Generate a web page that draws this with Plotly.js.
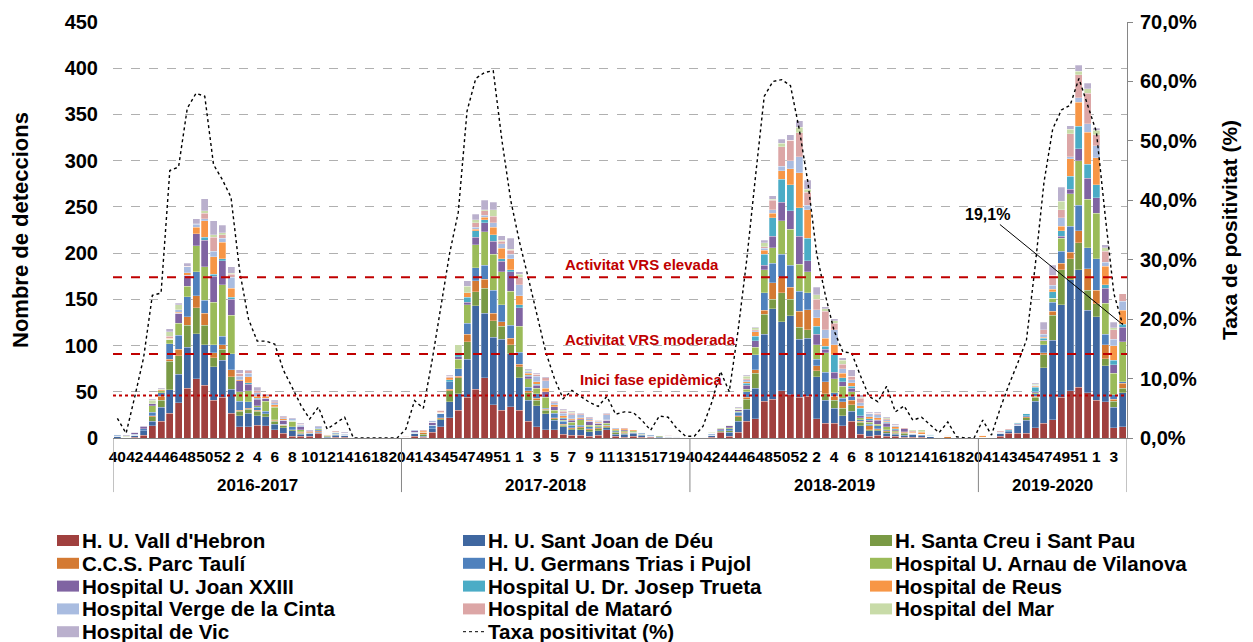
<!DOCTYPE html>
<html>
<head>
<meta charset="utf-8">
<script src="https://cdn.plot.ly/plotly-3.0.1.min.js"></script>
<style>
html,body{margin:0;padding:0;background:#ffffff;}
#chart{width:1253px;height:642px;}
</style>
</head>
<body>
<div id="chart"></div>
<script>
// ---------- DATA ----------
const seasons = ['2016-2017', '2017-2018', '2018-2019', '2019-2020'];
const weeksS1 = [40,41,42,43,44,45,46,47,48,49,50,51,52,1,2,3,4,5,6,7,8,9,10,11,12,13,14,15,16,17,18,19,20];
const weeksS2 = [40,41,42,43,44,45,46,47,48,49,50,51,52,1,2,3,4,5,6,7,8,9,10,11,12,13,14,15,16,17,18,19,20];
const weeksS3 = [40,41,42,43,44,45,46,47,48,49,50,51,52,1,2,3,4,5,6,7,8,9,10,11,12,13,14,15,16,17,18,19,20];
const weeksS4 = [40,41,42,43,44,45,46,47,48,49,50,51,52,1,2,3,4];

// detections per hospital (season 2016-17 | 2017-18 | 2018-19 | 2019-20)
const vallHebron = [
  0,0,1,3,13,18,27,38,54,64,57,41,44,27,12,12,14,13,9,5,2,2,2,5,0,1,1,0,0,0,0,0,0,
  1,2,1,6,12,22,30,44,53,65,36,30,34,30,18,12,9,9,4,3,3,2,3,9,2,1,2,1,1,0,0,0,0,
  0,1,1,6,2,6,18,21,40,42,51,47,44,45,21,16,16,13,18,4,2,3,2,2,1,1,1,0,0,0,0,0,0,
  0,0,2,5,5,5,11,16,20,44,51,55,49,41,39,11,12];
const santJoanDeu = [
  2,0,2,5,5,15,25,31,44,49,44,36,40,26,12,15,10,10,6,6,6,2,3,1,1,2,2,0,0,0,0,0,0,
  0,3,1,4,8,17,18,41,90,70,73,77,57,35,23,23,17,10,8,6,6,5,5,2,2,3,3,2,1,1,1,1,0,
  1,0,2,1,4,12,13,33,72,98,75,85,63,63,45,25,16,11,11,9,6,5,3,2,2,3,2,2,1,0,0,0,0,
  0,0,3,2,8,14,29,60,86,100,120,127,89,90,39,22,37];
const santPau = [
  0,0,0,0,5,8,31,20,24,28,21,10,12,13,5,4,5,3,3,2,1,1,0,1,1,1,0,0,0,0,0,0,0,
  0,0,2,0,1,12,17,19,15,27,18,14,10,12,8,6,4,2,2,1,2,2,2,1,2,1,1,1,0,1,0,0,0,
  0,0,0,1,2,5,11,16,22,10,31,18,13,9,7,7,9,8,7,4,1,1,2,1,2,0,1,0,0,0,0,0,0,
  0,0,0,0,0,3,4,14,27,38,23,29,22,14,8,7,5];
const parcTauli = [
  0,0,0,0,1,4,2,7,9,13,13,5,5,8,1,1,1,0,1,1,0,1,1,1,1,0,0,0,0,0,0,0,0,
  0,0,2,0,1,2,2,8,12,10,8,5,7,3,2,2,1,1,1,1,1,1,1,1,1,1,0,0,0,1,0,0,0,
  0,0,0,0,0,1,2,4,4,18,17,13,17,22,5,13,4,7,5,1,4,1,1,1,1,1,0,0,0,2,0,0,0,
  1,0,0,0,0,1,1,2,4,7,7,13,23,15,15,2,5];
const germansTrias = [
  1,0,1,2,4,4,17,15,22,26,14,9,9,17,10,7,3,3,1,1,3,1,1,1,0,1,1,0,0,0,0,0,0,
  0,1,0,4,5,8,8,12,14,15,25,18,14,13,4,5,1,5,3,3,2,2,1,1,1,1,1,1,1,0,1,0,0,
  0,0,1,1,2,4,6,16,19,21,25,24,22,18,7,10,4,4,4,2,2,3,1,1,1,0,0,0,0,0,0,0,0,
  0,0,1,1,1,1,3,9,10,13,28,28,23,34,11,5,2];
const arnauVilanova = [
  1,1,0,0,7,2,5,13,11,28,36,46,56,42,10,12,2,11,13,0,6,2,0,1,1,1,0,0,0,0,0,0,0,
  0,0,1,0,0,0,10,20,25,36,39,36,37,28,9,6,12,3,1,3,6,2,2,2,1,1,1,1,1,0,0,1,0,
  0,0,1,0,1,1,3,8,25,17,36,39,29,23,16,21,15,13,5,2,2,2,3,1,0,0,0,0,0,0,0,0,0,
  0,0,0,0,0,0,1,4,4,14,35,48,52,49,34,23,43];
const joanXXIII = [
  0,0,2,2,2,0,0,11,12,13,29,28,26,17,12,7,7,3,1,4,0,3,0,0,0,0,1,0,0,0,0,0,0,
  0,2,0,3,0,0,3,3,8,10,14,11,21,20,3,3,6,4,2,2,1,4,2,3,0,1,0,0,0,0,0,0,0,
  0,0,0,1,2,2,4,7,5,12,20,20,30,12,11,4,7,5,4,2,2,4,4,1,3,0,0,0,0,0,0,0,0,
  0,0,0,0,1,0,1,1,0,2,5,13,23,17,16,9,16];
const josepTrueta = [
  0,0,0,0,0,0,0,0,0,0,3,2,2,2,0,2,1,0,0,0,1,0,0,0,0,0,0,0,0,0,0,0,0,
  0,0,0,0,0,2,2,5,7,3,7,3,2,3,1,1,0,0,1,1,0,0,0,0,0,0,0,0,0,0,0,0,0,
  0,0,0,0,0,0,2,5,12,20,25,28,31,24,9,3,19,4,2,8,2,1,1,1,0,0,0,1,0,0,0,0,0,
  0,0,1,1,1,2,5,2,7,6,14,24,15,14,4,5,3];
const hospReus = [
  0,0,0,0,0,1,1,1,3,7,18,19,18,10,1,6,2,2,2,2,0,0,0,0,0,1,0,0,0,0,0,0,0,
  0,0,1,0,1,2,0,5,2,3,8,11,12,10,2,3,4,2,2,1,1,1,1,1,1,1,1,0,0,0,0,0,0,
  0,0,0,0,0,0,2,5,4,5,9,17,38,31,9,9,11,5,4,3,2,2,1,2,0,1,2,0,0,1,0,0,0,
  2,0,0,0,1,1,1,1,3,5,19,26,35,29,20,16,15];
const vergeCinta = [
  0,0,1,0,0,0,0,3,6,3,2,6,4,12,4,4,4,2,2,1,2,2,0,2,0,0,0,0,0,0,0,0,0,
  0,1,0,2,0,0,0,0,2,2,5,5,5,12,2,6,8,2,3,4,3,2,1,5,1,0,0,0,0,0,0,0,0,
  0,0,0,0,0,0,2,1,2,4,5,9,17,5,9,9,16,5,3,3,3,3,2,1,0,1,1,1,0,0,0,0,0,
  0,0,0,0,0,0,1,3,4,9,2,5,9,13,4,7,10];
const hospMataro = [
  0,0,0,0,0,0,2,0,1,1,6,15,4,3,3,3,2,1,1,1,0,1,1,0,0,1,0,0,0,0,0,0,0,
  1,0,1,0,2,2,0,0,5,5,7,3,4,8,1,2,3,1,2,2,1,1,1,1,0,1,0,0,0,0,1,0,0,
  0,0,0,0,0,0,1,1,2,10,21,22,26,14,11,20,7,5,4,5,1,2,1,1,1,1,0,0,0,0,0,0,0,
  0,0,1,1,0,0,0,5,11,9,25,25,33,12,12,10,8];
const hospMar = [
  0,1,0,0,4,1,5,5,0,0,3,3,2,1,0,0,0,0,0,0,0,0,0,0,0,0,0,0,0,0,0,0,0,
  0,0,0,0,0,0,11,7,3,1,7,1,1,3,1,0,0,0,1,1,0,0,0,0,0,0,0,1,0,0,0,0,0,
  0,0,1,1,1,1,3,2,4,1,4,0,6,3,5,3,3,4,0,1,0,0,1,0,0,1,2,0,0,0,0,0,0,
  0,0,0,0,0,0,1,0,0,9,5,4,5,5,4,2,0];
const hospVic = [
  0,1,0,1,1,1,3,2,3,5,13,15,8,7,4,1,4,0,2,1,1,1,1,1,0,0,1,0,0,0,0,0,0,
  0,0,0,0,0,1,0,6,6,10,8,5,12,3,1,1,1,1,1,1,1,1,1,1,0,0,0,0,0,0,0,0,0,
  0,0,0,0,0,1,1,1,3,4,4,6,7,10,8,2,2,3,7,3,1,1,1,1,0,0,0,0,0,0,0,0,0,
  0,0,0,0,0,0,1,8,11,15,4,6,6,2,3,6,0];

// positivity rate (%)
const taxaPositivitat = [
  3.3,0.8,7,13.5,24,24.4,45,45.6,55.5,58,57.5,46,43.5,40.5,28,20,16.3,16.3,15.8,11.4,8.5,5.5,3.2,5.2,1.5,2.5,3.5,0,0,0,0,0,0,
  1.5,6.3,5,13,22,31,38,55,60.5,61.5,61.8,50,40,33,27,21,14.5,10,6.6,8,7,6,5.3,7,4,4.4,4.3,3,1.3,3.7,3.5,1.6,0.3,
  0.3,2,6,11.2,7.8,18,30,44,57.5,60,60.3,59.3,52,43,31,24,18,14.5,14.3,10.5,7,6.1,8.7,4.4,5.4,3,3.5,2.2,0.9,2.7,0.2,0,0,
  3,0.5,5,9,12.6,16.5,29,43,52,55.2,56,60.5,56,51.5,37.5,24.3,19.1];

// epidemic thresholds (detections)
const thresholdValues = [174, 91, 46];
const thresholdLabels = ['Activitat VRS elevada', 'Activitat VRS moderada', 'Inici fase epidèmica'];

const seriesNames = ["H. U. Vall d'Hebron", "H. U. Sant Joan de Déu", "H. Santa Creu i Sant Pau",
  "C.C.S. Parc Taulí", "H. U. Germans Trias i Pujol", "Hospital U. Arnau de Vilanova",
  "Hospital U. Joan XXIII", "Hospital U. Dr. Josep Trueta", "Hospital de Reus",
  "Hospital Verge de la Cinta", "Hospital de Mataró", "Hospital del Mar", "Hospital de Vic"];
const lineName = 'Taxa positivitat (%)';

// ---------- BUILD ----------
const seasonWeeks = [weeksS1, weeksS2, weeksS3, weeksS4];
const seriesValues = [vallHebron, santJoanDeu, santPau, parcTauli, germansTrias, arnauVilanova,
  joanXXIII, josepTrueta, hospReus, vergeCinta, hospMataro, hospMar, hospVic];
const colors = ['#A0403E', '#3F67A0', '#7A9A45', '#D47A33', '#4F81BD', '#9BBB59',
  '#8064A2', '#4BACC6', '#F79646', '#A9BCE0', '#DCA6A6', '#C8DBA8', '#BAB0CD'];

const cats = [], catWeek = [], bounds = [0];
seasons.forEach((s, k) => {
  seasonWeeks[k].forEach(w => { cats.push(s + ' · ' + w); catWeek.push(w); });
  bounds.push(cats.length);
});
const tickvals = cats.filter((c, i) => i % 2 === 0);
const ticktext = catWeek.filter((w, i) => i % 2 === 0).map(String);

const FONT = 'Liberation Sans, Arial, Helvetica, sans-serif';

const traces = seriesValues.map((vals, i) => ({
  type: 'bar',
  name: seriesNames[i],
  x: cats,
  y: vals,
  showlegend: false,
  marker: {color: colors[i], line: {color: 'rgba(255,255,255,0.55)', width: 0.5}}
}));
traces.push({
  type: 'scatter',
  mode: 'lines',
  name: lineName,
  x: cats,
  y: taxaPositivitat,
  yaxis: 'y2',
  showlegend: false,
  line: {color: '#000000', width: 1.4, dash: 'dot'}
});

// geometry of the plot area (pixels) used to place the legend block below it
const W = 1253, H = 642;
const M = {l: 113, r: 126, t: 22, b: 204};
const pw = W - M.l - M.r, ph = H - M.t - M.b;
const px2x = px => (px - M.l) / pw;
const py2y = py => (H - M.b - py) / ph;

const shapes = [];
bounds.forEach(b => {
  shapes.push({type: 'line', xref: 'x', yref: 'paper', x0: b - 0.5, x1: b - 0.5, y0: 0, y1: -0.13,
    line: {color: '#868686', width: 1}});
});
thresholdValues.forEach((v, i) => {
  shapes.push({type: 'line', xref: 'paper', yref: 'y', x0: 0, x1: 1, y0: v, y1: v,
    line: {color: '#C00000', width: 2, dash: i === 2 ? 'dot' : 'dash'}});
});

const annotations = [];
seasons.forEach((s, k) => {
  annotations.push({xref: 'x', yref: 'paper', x: (bounds[k] + bounds[k + 1] - 1) / 2, y: -0.113,
    text: s, showarrow: false, xanchor: 'center', yanchor: 'middle',
    font: {family: FONT, size: 17, weight: 'bold', color: '#000'}});
});
const thrX = [0.522, 0.530, 0.531];
const thrShift = [13, 14, 16];
thresholdLabels.forEach((t, i) => {
  annotations.push({xref: 'paper', yref: 'y', x: thrX[i], y: thresholdValues[i], yshift: thrShift[i],
    text: t, showarrow: false, xanchor: 'center', yanchor: 'middle',
    font: {family: FONT, size: 15, weight: 'bold', color: '#C00000'}});
});
const lastIdx = cats.length - 1;
annotations.push({xref: 'x', yref: 'y2', x: cats[lastIdx], y: taxaPositivitat[lastIdx],
  text: taxaPositivitat[lastIdx].toFixed(1).replace('.', ',') + '%',
  showarrow: true, arrowhead: 0, arrowwidth: 1, arrowcolor: '#000', ax: -135, ay: -110,
  font: {family: FONT, size: 16, weight: 'bold', color: '#000'}});

// legend (3 columns, Excel style)
const legendItems = seriesNames.map((n, i) => ({name: n, color: colors[i], kind: 'bar'}));
legendItems.push({name: lineName, color: '#000', kind: 'line'});
const legColX = [57, 463, 870];
const legRowY0 = 540.5, legRowStep = 22.8, swW = 22, swH = 11;
legendItems.forEach((it, i) => {
  const cx = legColX[i % 3];
  const cy = legRowY0 + Math.floor(i / 3) * legRowStep;
  if (it.kind === 'bar') {
    shapes.push({type: 'rect', xref: 'paper', yref: 'paper',
      x0: px2x(cx), x1: px2x(cx + swW), y0: py2y(cy + swH / 2), y1: py2y(cy - swH / 2),
      fillcolor: it.color, line: {width: 0}});
  } else {
    shapes.push({type: 'line', xref: 'paper', yref: 'paper',
      x0: px2x(cx), x1: px2x(cx + swW + 1), y0: py2y(cy), y1: py2y(cy),
      line: {color: it.color, width: 1, dash: 'dot'}});
  }
  annotations.push({xref: 'paper', yref: 'paper', x: px2x(cx + swW + 1.5), y: py2y(cy),
    text: it.name, showarrow: false, xanchor: 'left', yanchor: 'middle', borderpad: 0,
    font: {family: FONT, size: 20.6, weight: 'bold', color: '#000'}});
});

const layout = {
  width: W, height: H,
  margin: {l: M.l, r: M.r, t: M.t, b: M.b, autoexpand: false},
  paper_bgcolor: '#ffffff', plot_bgcolor: '#ffffff',
  barmode: 'stack', bargap: 0.2,
  separators: ',.',
  showlegend: false,
  font: {family: FONT, color: '#000'},
  xaxis: {type: 'category', categoryorder: 'array', categoryarray: cats,
    tickmode: 'array', tickvals: tickvals, ticktext: ticktext, tickangle: 0,
    tickfont: {family: FONT, size: 15.5, weight: 'bold', color: '#000'},
    showline: true, linecolor: '#868686', linewidth: 1, ticks: '', showgrid: false, zeroline: false,
    ticklabelstandoff: 4, range: [-0.5, cats.length - 0.5]},
  yaxis: {range: [0, 450], tick0: 0, dtick: 50,
    tickfont: {family: FONT, size: 20, weight: 'bold', color: '#000'},
    showgrid: true, gridcolor: '#b0b0b0', griddash: 'dash', gridwidth: 1,
    zeroline: false, showline: false, ticks: '', ticklabelstandoff: 14,
    title: {text: 'Nombre de deteccions', standoff: 29, font: {family: FONT, size: 22, weight: 'bold', color: '#000'}}},
  yaxis2: {overlaying: 'y', side: 'right', range: [0, 70], tick0: 0, dtick: 10,
    tickformat: '.1f', ticksuffix: '%', showgrid: false, zeroline: false,
    showline: true, linecolor: '#868686', ticks: 'outside', ticklen: 5, tickcolor: '#868686',
    ticklabelstandoff: 3,
    tickfont: {family: FONT, size: 20, weight: 'bold', color: '#000'},
    title: {text: 'Taxa de positivitat (%)', standoff: 26, font: {family: FONT, size: 21, weight: 'bold', color: '#000'}}},
  shapes: shapes,
  annotations: annotations
};

Plotly.newPlot('chart', traces, layout, {displayModeBar: false, responsive: false, staticPlot: true});
</script>
</body>
</html>
